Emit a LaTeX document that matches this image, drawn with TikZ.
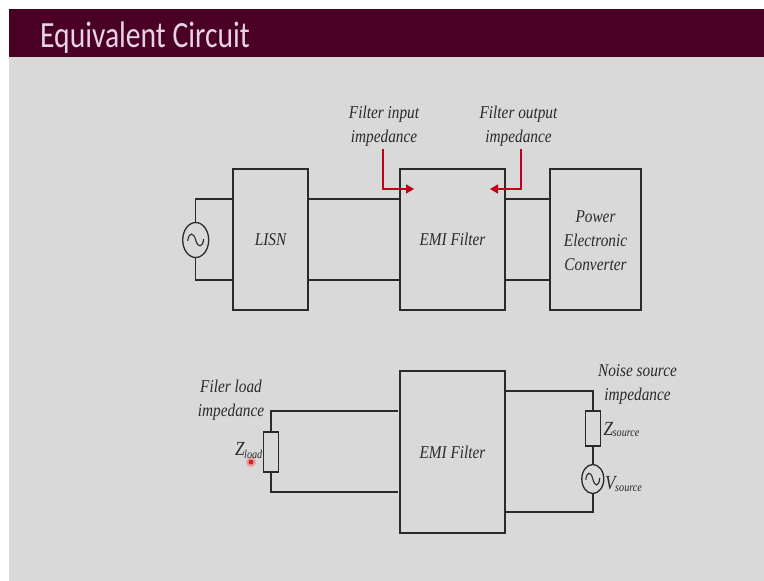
\documentclass[tikz,border=0pt]{standalone}
\usepackage{fontspec}
\setmainfont[FakeStretch=0.85]{Liberation Serif}
\newfontfamily\titlefont[FakeStretch=0.8]{Carlito}
\usetikzlibrary{shapes.geometric,arrows.meta}
\definecolor{slidebg}{HTML}{D9D9D9}
\definecolor{titlebar}{HTML}{4A0024}
\definecolor{titletext}{HTML}{E8D3E2}
\definecolor{redline}{HTML}{C00018}
\definecolor{ink}{HTML}{2A2A2A}
\tikzset{
  blockbox/.style={draw=ink,line width=1.5pt,inner sep=0pt,align=center,font=\fontsize{18}{24}\selectfont\itshape,text=ink},
  imped/.style={draw=ink,line width=1.5pt,inner sep=0pt,minimum width=15pt},
  wire/.style={draw=ink,line width=1.5pt},
  srcnode/.style={draw=ink,line width=1.3pt,ellipse,inner sep=0pt},
  redwire/.style={draw=redline,line width=1.6pt,-{Triangle[length=8pt,width=9pt]}},
  lbl/.style={inner sep=0pt,align=center,font=\fontsize{18}{24}\selectfont\itshape,text=ink},
  sym/.style={inner sep=0pt,font=\fontsize{20}{22}\selectfont\itshape,text=ink},
  sub/.style={inner sep=0pt,font=\fontsize{12}{14}\selectfont\itshape,text=ink}
}
\newcommand{\sinewave}[3]{\draw[ink,line width=1.1pt] (#1-#3,#2+1) .. controls (#1-#3+1,#2-8) and (#1-2,#2-8) .. (#1,#2) .. controls (#1+2,#2+8) and (#1+#3-1,#2+8) .. (#1+#3,#2-1);}
\begin{document}
\begin{tikzpicture}[x=1pt,y=-1pt]
\useasboundingbox (0,0) rectangle (764,581);
\fill[white] (0,0) rectangle (764,581);
\fill[slidebg] (9,9) rectangle (764,581);
\fill[titlebar] (9,9) rectangle (764,57);
\node[anchor=base west,inner sep=0pt,text=titletext,font=\titlefont\fontsize{37}{40}\selectfont] (title) at (40,47.5) {Equivalent Circuit};

% upper circuit
\node[blockbox,minimum width=75pt,minimum height=141pt] (lisn) at (270.5,239.5) {LISN};
\node[blockbox,minimum width=105pt,minimum height=141pt] (emia) at (452.5,239.5) {EMI Filter};
\node[blockbox,minimum width=91pt,minimum height=141pt] (pec) at (595.5,239.5) {};
\node[lbl] (pectext) at (595.5,241) {Power\\Electronic\\Converter};
\node[srcnode,minimum width=26pt,minimum height=35pt] (vac) at (195.7,240) {};
\sinewave{195.7}{240}{8}
\coordinate (vactop) at (195.7,199);
\coordinate (vacbot) at (195.7,280);
\coordinate (lt) at (lisn.west |- vactop);
\coordinate (lb) at (lisn.west |- vacbot);
\draw[wire] (vac.north) -- (vactop) -- (lt);
\draw[wire] (vac.south) -- (vacbot) -- (lb);
\draw[wire] (lisn.east |- vactop) -- (emia.west |- vactop);
\draw[wire] (lisn.east |- vacbot) -- (emia.west |- vacbot);
\draw[wire] (emia.east |- vactop) -- (pec.west |- vactop);
\draw[wire] (emia.east |- vacbot) -- (pec.west |- vacbot);

\node[lbl] (inlbl) at (384,126.5) {Filter input\\impedance};
\node[lbl] (outlbl) at (518.5,126.5) {Filter output\\impedance};
\coordinate (inbend) at (383.2,189);
\coordinate (intip) at (414,189);
\coordinate (outbend) at (520.8,189);
\coordinate (outtip) at (490,189);
\coordinate (instart) at (383.2,149);
\coordinate (outstart) at (520.8,149);
\draw[redwire] (instart) -- (inbend) -- (intip);
\draw[redwire] (outstart) -- (outbend) -- (outtip);

% lower circuit
\node[blockbox,minimum width=105pt,minimum height=162pt] (emib) at (452.5,452) {EMI Filter};
\node[imped,minimum height=40pt] (zload) at (270.8,452) {};
\coordinate (lct) at (270.8,411);
\coordinate (lcb) at (270.8,492);
\coordinate (lit) at (397.5,411);
\coordinate (lib) at (397.5,492);
\draw[wire] (zload.north) -- (lct) -- (lit);
\draw[wire] (zload.south) -- (lcb) -- (lib);
\node[lbl] (loadlbl) at (231,400.5) {Filer load\\impedance};
\node[sym,anchor=base west] (zl) at (235,455) {Z};
\node[sub,anchor=base west] (zlsub) at (244,458.5) {load};

\node[imped,minimum height=35pt] (zsrc) at (592.8,428.5) {};
\node[srcnode,minimum width=22pt,minimum height=29pt] (vsrc) at (592.8,479) {};
\sinewave{592.8}{479}{7}
\coordinate (rct) at (592.8,391);
\coordinate (rcb) at (592.8,512);
\draw[wire] (emib.east |- rct) -- (rct) -- (zsrc.north);
\draw[wire] (zsrc.south) -- (vsrc.north);
\draw[wire] (vsrc.south) -- (rcb) -- (emib.east |- rcb);
\node[lbl] (noiselbl) at (637.5,384) {Noise source\\impedance};
\node[sym,anchor=base west] (zs) at (603.5,435) {Z};
\node[sub,anchor=base west] (zssub) at (612.5,436.5) {source};
\node[sym,anchor=base west] (vs) at (605,489) {V};
\node[sub,anchor=base west] (vssub) at (615,491) {source};

% pointer mark
\fill[red,opacity=.25] (251,462) circle (5pt);
\fill[red!85!black,opacity=.8] (251,462) circle (2.5pt);
\end{tikzpicture}
\end{document}
